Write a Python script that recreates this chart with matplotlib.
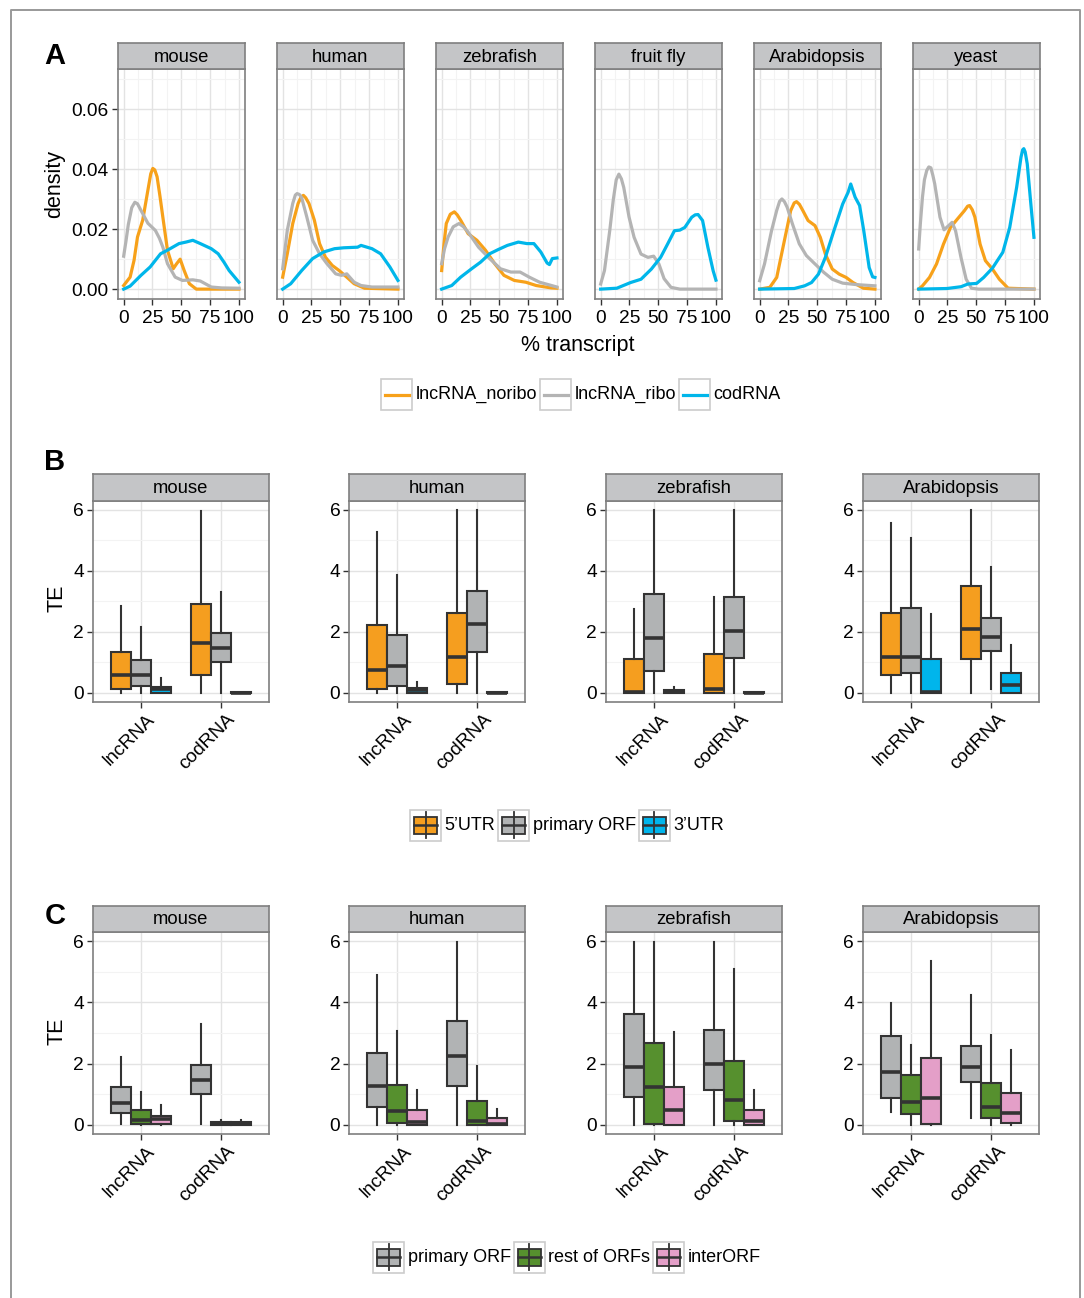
import matplotlib
matplotlib.use("Agg")
import matplotlib.pyplot as plt
from matplotlib.patches import Rectangle
from matplotlib.lines import Line2D
from matplotlib.transforms import ScaledTranslation

plt.rcParams["font.family"] = ["Liberation Sans", "DejaVu Sans"]

W, H = 1084, 1298

ORANGE = "#F7A11A"
GREYLINE = "#B4B4B4"
BLUE = "#00B6EA"
BOX_OR = "#F59E1F"
BOX_GR = "#B1B3B4"
BOX_BL = "#00B5EC"
BOX_GN = "#56902E"
BOX_PK = "#E49FC8"
EDGE = "#333333"
STRIP = "#C4C5C7"
BORDER = "#7F7F7F"

# ---- panel A: density of ribosome-profiling reads along transcript ----
species_A = ["mouse", "human", "zebrafish", "fruit fly", "Arabidopsis", "yeast"]
series_A = ["lncRNA_noribo", "lncRNA_ribo", "codRNA"]

mouse_noribo = [(0, 0.0012), (5.6, 0.004), (9, 0.0096), (12, 0.0174), (16.5, 0.023), (21, 0.033),
                (23.5, 0.0385), (25.3, 0.0403), (27, 0.0398), (29, 0.0375), (31.5, 0.031), (34, 0.024),
                (38, 0.013), (43, 0.0068), (46, 0.0085), (49, 0.010), (52.5, 0.0062), (57, 0.0018),
                (63, 0.0), (100, 0.0)]
mouse_ribo = [(0, 0.011), (2, 0.016), (4, 0.0215), (7, 0.0272), (9.7, 0.029), (12, 0.0285), (15, 0.0263),
              (21, 0.022), (27.5, 0.0196), (31, 0.017), (34, 0.014), (38, 0.0085), (44.7, 0.004),
              (51, 0.0029), (60, 0.0031), (66.5, 0.0027), (76, 0.0007), (85, 0.0004), (100, 0.0003)]
mouse_cod = [(0, 0.0), (5.6, 0.001), (15, 0.0046), (23, 0.0074), (32, 0.0118), (38, 0.013),
             (48, 0.0152), (54, 0.0157), (60, 0.0163), (66.5, 0.0152), (76, 0.0135), (82, 0.0118),
             (87, 0.009), (91.5, 0.0062), (100, 0.0023)]

human_noribo = [(0, 0.004), (4, 0.0118), (8.75, 0.0219), (13.4, 0.0286), (16, 0.0308), (18, 0.0313),
                (20, 0.0305), (22.8, 0.0286), (27.5, 0.023), (32, 0.0152), (37, 0.0107), (43, 0.0079),
                (49, 0.0062), (55.6, 0.004), (62, 0.0018), (71, 0.0003), (100, 0.0)]
human_ribo = [(0, 0.0068), (4, 0.0196), (8.75, 0.0286), (11, 0.0314), (12.5, 0.0319), (14.5, 0.0316),
              (16.5, 0.0305), (21, 0.024), (26, 0.0163), (32, 0.0118), (38.4, 0.0085), (46, 0.0051),
              (51, 0.0046), (55.6, 0.0051), (62, 0.0023), (68, 0.0012), (77.5, 0.0007), (100, 0.0007)]
human_cod = [(0, 0.0), (7, 0.0018), (16.5, 0.0062), (26, 0.0102), (35.6, 0.0124), (45, 0.0135),
             (53, 0.0138), (65, 0.014), (68, 0.0146), (77.5, 0.0135), (85, 0.0118), (93, 0.0074),
             (100, 0.0029)]

zebrafish_noribo = [(0, 0.0062), (2, 0.015), (4, 0.0219), (7.5, 0.025), (11, 0.0258), (13.5, 0.0248),
                    (16.5, 0.023), (23, 0.0185), (30.6, 0.0163), (38, 0.013), (46, 0.0085), (54, 0.0046),
                    (63, 0.0029), (73, 0.0023), (82, 0.0012), (95, 0.0004), (100, 0.0003)]
zebrafish_ribo = [(0, 0.0085), (2.5, 0.0135), (5.6, 0.0174), (10, 0.0208), (15, 0.0219), (19, 0.0208),
                  (23, 0.019), (32, 0.014), (41.6, 0.0102), (51, 0.0068), (60, 0.0057), (68, 0.0057),
                  (76, 0.004), (85, 0.0023), (100, 0.0007)]
zebrafish_cod = [(0, 0.0), (8.75, 0.0012), (16.5, 0.004), (26, 0.0068), (33.75, 0.009), (41.6, 0.0118),
                 (49, 0.0132), (57, 0.0146), (66.5, 0.0157), (74, 0.0152), (80, 0.0152), (86, 0.0124),
                 (91.5, 0.0087), (93.5, 0.0082), (96, 0.0102), (100, 0.0104)]

fruitfly_noribo = []
fruitfly_ribo = [(0, 0.0017), (3.3, 0.0062), (7.9, 0.0196), (11, 0.030), (13.5, 0.0365), (15.8, 0.0384),
                 (18, 0.0368), (20, 0.034), (24.6, 0.0241), (29, 0.0173), (35, 0.0117), (41, 0.0106),
                 (46, 0.011), (50.5, 0.0084), (55, 0.0035), (61, 0.0006), (68.7, 0.0), (100, 0.0)]
fruitfly_cod = [(0, 0.0), (14, 0.0003), (26, 0.0022), (35, 0.0033), (44, 0.0067), (52, 0.0106),
                (58, 0.015), (64, 0.0195), (68.7, 0.0197), (73, 0.0206), (79, 0.024), (82, 0.0248),
                (84.5, 0.0249), (88.4, 0.0229), (93, 0.014), (97.6, 0.0061), (100, 0.003)]

arabidopsis_noribo = [(0, 0.0), (8.8, 0.0006), (14.8, 0.0039), (20.8, 0.015), (26.9, 0.0262), (30, 0.0288),
                      (32, 0.0292), (34.5, 0.0283), (37.5, 0.0262), (42, 0.0229), (48, 0.0212),
                      (52.6, 0.0173), (57, 0.0117), (63, 0.0067), (69, 0.005), (75, 0.0039), (81, 0.0022),
                      (90, 0.0003), (100, 0.0)]
arabidopsis_ribo = [(0, 0.0028), (4.2, 0.0084), (10.3, 0.0195), (14.8, 0.0263), (17.3, 0.0293),
                    (19.3, 0.0301), (21.5, 0.0292), (23.9, 0.0273), (28.4, 0.0218), (34.4, 0.0151),
                    (40.5, 0.0112), (48, 0.0084), (55.6, 0.0056), (63, 0.0033), (72, 0.002), (84, 0.0015),
                    (100, 0.0011)]
arabidopsis_cod = [(0, 0.0), (30, 0.0002), (39, 0.0011), (45, 0.0022), (51, 0.005), (57, 0.0106),
                   (64.4, 0.0195), (72, 0.0284), (76.7, 0.0323), (79, 0.0351), (82.8, 0.0307),
                   (86.7, 0.0279), (90.3, 0.0195), (95, 0.0072), (98, 0.0041), (100, 0.0039)]

yeast_noribo = [(0, 0.0), (3.3, 0.0011), (9.4, 0.0039), (15.5, 0.0084), (21.5, 0.015), (27.6, 0.0206),
                (33.6, 0.0234), (39.7, 0.0262), (42.5, 0.0277), (44.2, 0.0279), (46.5, 0.0265),
                (48.8, 0.024), (53.3, 0.015), (57.9, 0.0095), (64, 0.0067), (70, 0.0033), (77.6, 0.0003),
                (100, 0.0)]
yeast_ribo = [(0, 0.0134), (1.5, 0.022), (3.3, 0.0307), (5, 0.0365), (7, 0.0396), (8.8, 0.0408),
              (10.6, 0.0405), (12.3, 0.038), (13.9, 0.0352), (18.5, 0.024), (22, 0.0198), (26, 0.0212),
              (29, 0.0223), (32, 0.0195), (36.7, 0.0106), (41.2, 0.0033), (45.8, 0.0003), (52, 0.0),
              (100, 0.0)]
yeast_cod = [(0, 0.0), (24.5, 0.0002), (36.7, 0.0008), (42.7, 0.0017), (50.3, 0.0019), (56.4, 0.0039),
             (64, 0.007), (73, 0.0123), (79, 0.0206), (85, 0.034), (88.8, 0.0441), (90.2, 0.0465),
             (91.2, 0.0469), (92.4, 0.0458), (94.2, 0.0418), (97.3, 0.0285), (100, 0.0173)]

# ---- panels B / C: TE boxplots, stats = (whislo, q1, median, q3, whishi) for [lncRNA, codRNA] ----
categories = ["lncRNA", "codRNA"]
species_BC = ["mouse", "human", "zebrafish", "Arabidopsis"]
groups_B = ["5\u2019UTR", "primary ORF", "3\u2019UTR"]
groups_C = ["primary ORF", "rest of ORFs", "interORF"]

B_mouse_utr5 = [(0, 0.13, 0.60, 1.33, 2.85), (0, 0.57, 1.65, 2.91, 5.95)]
B_mouse_orf = [(0, 0.24, 0.57, 1.09, 2.17), (0, 1.02, 1.47, 1.96, 3.32)]
B_mouse_utr3 = [(0, 0, 0.13, 0.20, 0.48), (0, 0, 0.01, 0.02, 0.03)]
B_human_utr5 = [(0, 0.14, 0.74, 2.23, 5.27), (0, 0.29, 1.17, 2.63, 6.0)]
B_human_orf = [(0, 0.22, 0.89, 1.89, 3.86), (0, 1.34, 2.26, 3.33, 6.0)]
B_human_utr3 = [(0, 0, 0.08, 0.15, 0.35), (0, 0, 0.01, 0.02, 0.03)]
B_zebrafish_utr5 = [(0, 0, 0.02, 1.11, 2.74), (0, 0, 0.13, 1.26, 3.15)]
B_zebrafish_orf = [(0, 0.71, 1.79, 3.23, 6.0), (0, 1.14, 2.03, 3.13, 6.0)]
B_zebrafish_utr3 = [(0, 0, 0.02, 0.09, 0.20), (0, 0, 0.01, 0.02, 0.03)]
B_arabidopsis_utr5 = [(0, 0.58, 1.17, 2.61, 5.57), (0, 1.10, 2.10, 3.50, 6.0)]
B_arabidopsis_orf = [(0, 0.65, 1.17, 2.78, 5.09), (0.11, 1.37, 1.83, 2.47, 4.13)]
B_arabidopsis_utr3 = [(0, 0, 0.02, 1.12, 2.58), (0, 0, 0.26, 0.64, 1.58)]

C_mouse_orf = [(0.02, 0.37, 0.70, 1.23, 2.20), (0.02, 1.00, 1.46, 1.95, 3.31)]
C_mouse_rest = [(0, 0.04, 0.15, 0.48, 1.08), (0, 0, 0.04, 0.08, 0.15)]
C_mouse_inter = [(0, 0.04, 0.20, 0.30, 0.66), (0, 0, 0.04, 0.08, 0.15)]
C_human_orf = [(0, 0.59, 1.27, 2.34, 4.91), (0, 1.26, 2.24, 3.39, 5.98)]
C_human_rest = [(0, 0.07, 0.45, 1.29, 3.05), (0, 0, 0.12, 0.78, 1.93)]
C_human_inter = [(0, 0, 0.10, 0.47, 1.15), (0, 0, 0.04, 0.22, 0.53)]
C_zebrafish_orf = [(0, 0.92, 1.88, 3.61, 5.98), (0, 1.15, 1.98, 3.09, 5.96)]
C_zebrafish_rest = [(0, 0.04, 1.24, 2.67, 5.98), (0, 0.11, 0.81, 2.09, 5.09)]
C_zebrafish_inter = [(0, 0, 0.48, 1.22, 3.02), (0, 0, 0.11, 0.47, 1.15)]
C_arabidopsis_orf = [(0.42, 0.88, 1.72, 2.91, 3.97), (0.21, 1.39, 1.88, 2.58, 4.23)]
C_arabidopsis_rest = [(0, 0.35, 0.75, 1.64, 2.62), (0, 0.23, 0.59, 1.37, 2.94)]
C_arabidopsis_inter = [(0, 0.04, 0.87, 2.18, 5.35), (0, 0.07, 0.40, 1.03, 2.46)]

curves_A = {
    "mouse": [mouse_noribo, mouse_ribo, mouse_cod],
    "human": [human_noribo, human_ribo, human_cod],
    "zebrafish": [zebrafish_noribo, zebrafish_ribo, zebrafish_cod],
    "fruit fly": [fruitfly_noribo, fruitfly_ribo, fruitfly_cod],
    "Arabidopsis": [arabidopsis_noribo, arabidopsis_ribo, arabidopsis_cod],
    "yeast": [yeast_noribo, yeast_ribo, yeast_cod],
}
boxes_B = {
    "mouse": [B_mouse_utr5, B_mouse_orf, B_mouse_utr3],
    "human": [B_human_utr5, B_human_orf, B_human_utr3],
    "zebrafish": [B_zebrafish_utr5, B_zebrafish_orf, B_zebrafish_utr3],
    "Arabidopsis": [B_arabidopsis_utr5, B_arabidopsis_orf, B_arabidopsis_utr3],
}
boxes_C = {
    "mouse": [C_mouse_orf, C_mouse_rest, C_mouse_inter],
    "human": [C_human_orf, C_human_rest, C_human_inter],
    "zebrafish": [C_zebrafish_orf, C_zebrafish_rest, C_zebrafish_inter],
    "Arabidopsis": [C_arabidopsis_orf, C_arabidopsis_rest, C_arabidopsis_inter],
}
colors_A = [ORANGE, GREYLINE, BLUE]
colors_B = [BOX_OR, BOX_GR, BOX_BL]
colors_C = [BOX_GR, BOX_GN, BOX_PK]

fig = plt.figure(figsize=(W / 100, H / 100), dpi=100)


def rect(x0, y0, x1, y1):
    return [x0 / W, 1 - y1 / H, (x1 - x0) / W, (y1 - y0) / H]


def style_panel(ax):
    for s in ax.spines.values():
        s.set_color(BORDER)
        s.set_linewidth(1.2)
    ax.set_axisbelow(True)
    ax.grid(which="major", color="#E3E3E3", linewidth=1.0)
    ax.grid(which="minor", color="#F3F3F3", linewidth=0.8)
    ax.tick_params(which="major", length=4.5, width=1.0, color=EDGE,
                   labelsize=13.8, labelcolor="black", pad=2)
    ax.tick_params(which="minor", length=0)


def strip(x0, y0, x1, y1, label):
    s = fig.add_axes(rect(x0, y0, x1, y1))
    s.set_facecolor(STRIP)
    s.set_xticks([]); s.set_yticks([])
    for sp in s.spines.values():
        sp.set_color(BORDER)
        sp.set_linewidth(1.2)
    s.text(0.5, 0.46, label, ha="center", va="center", fontsize=13.3, transform=s.transAxes)


# ---- panel A ----
for i, sp in enumerate(species_A):
    x0 = 117.9 + 159 * i
    ax = fig.add_axes(rect(x0, 69, x0 + 126.8, 298.7))
    for pts, c in zip(curves_A[sp], colors_A):
        if pts:
            xs = [p[0] for p in pts]
            ys = [p[1] for p in pts]
            ax.plot(xs, ys, color=c, linewidth=2.3, solid_joinstyle="round")
    ax.set_xlim(-5, 105)
    ax.set_ylim(-0.0032, 0.0735)
    ax.set_xticks([0, 25, 50, 75, 100])
    ax.set_xticks([12.5, 37.5, 62.5, 87.5], minor=True)
    ax.set_yticks([0, 0.02, 0.04, 0.06])
    ax.set_yticks([0.01, 0.03, 0.05, 0.07], minor=True)
    style_panel(ax)
    ax.tick_params(axis="x", pad=3.5)
    if i == 0:
        ax.set_yticklabels(["0.00", "0.02", "0.04", "0.06"])
    else:
        ax.tick_params(axis="y", which="both", length=0, labelleft=False)
    strip(x0, 43.3, x0 + 126.8, 69, sp)


# ---- panels B and C ----
shift = ScaledTranslation(6 / 100, 0, fig.dpi_scale_trans)


def box_panels(data, colors, y_strip, y_top, y_bot):
    for i, sp in enumerate(species_BC):
        x0 = 92.7 + 256.7 * i
        ax = fig.add_axes(rect(x0, y_top, x0 + 176, y_bot))
        for k, (stats, c) in enumerate(zip(data[sp], colors)):
            off = (k - 1) * 0.25
            bs = [dict(whislo=s[0], q1=s[1], med=s[2], q3=s[3], whishi=s[4], fliers=[])
                  for s in stats]
            ax.bxp(bs, positions=[1 + off, 2 + off], widths=0.25, patch_artist=True,
                   showcaps=False, showfliers=False, manage_ticks=False,
                   boxprops=dict(facecolor=c, edgecolor=EDGE, linewidth=1.5),
                   medianprops=dict(color=EDGE, linewidth=2.6, solid_capstyle="butt"),
                   whiskerprops=dict(color=EDGE, linewidth=1.5))
        ax.set_xlim(0.4, 2.6)
        ax.set_ylim(-0.3, 6.3)
        ax.set_xticks([1, 2])
        ax.set_xticklabels(categories, rotation=45, ha="right", va="top",
                           rotation_mode="anchor")
        ax.set_yticks([0, 2, 4, 6])
        ax.set_yticks([1, 3, 5], minor=True)
        style_panel(ax)
        for lab in ax.get_xticklabels():
            lab.set_transform(lab.get_transform() + shift)
        strip(x0, y_strip, x0 + 176, y_top, sp)


box_panels(boxes_B, colors_B, 474, 500.7, 702)
box_panels(boxes_C, colors_C, 905.7, 932, 1134)

# ---- overlay in pixel coordinates: frame, labels, legends ----
ov = fig.add_axes([0, 0, 1, 1], zorder=-1)
ov.set_xlim(0, W)
ov.set_ylim(H, 0)
ov.axis("off")
ov.add_line(Line2D([11, 11, 1080, 1080], [H + 5, 10, 10, H + 5], color="#999999", linewidth=1.4))

for lab, y in [("A", 56), ("B", 462), ("C", 916)]:
    ov.text(55, y, lab, ha="center", va="center", fontsize=21, fontweight="bold")
ov.text(55, 184, "density", rotation=90, ha="center", va="center", fontsize=15.5)
ov.text(578, 345, "% transcript", ha="center", va="center", fontsize=15.5)
ov.text(57, 598, "TE", rotation=90, ha="center", va="center", fontsize=15.5)
ov.text(57, 1031, "TE", rotation=90, ha="center", va="center", fontsize=15.5)

renderer = fig.canvas.get_renderer()


def legend(x, yc, labels, colors, kind):
    for lab, c in zip(labels, colors):
        ov.add_patch(Rectangle((x, yc - 15.5), 31, 31, facecolor="white",
                               edgecolor="#CCCCCC", linewidth=1.2))
        if kind == "line":
            ov.add_line(Line2D([x + 4, x + 28], [yc, yc], color=c, linewidth=2.3))
        else:
            cx = x + 15.5
            ov.add_line(Line2D([cx, cx], [yc - 13, yc + 13], color=EDGE, linewidth=1.3))
            ov.add_patch(Rectangle((x + 4, yc - 8.5), 23, 17, facecolor=c,
                                   edgecolor=EDGE, linewidth=1.3))
            ov.add_line(Line2D([x + 4, x + 27], [yc, yc], color=EDGE, linewidth=1.8))
        t = ov.text(x + 34.5, yc, lab, ha="left", va="center", fontsize=13)
        w = t.get_window_extent(renderer=renderer).width
        x = x + 34.5 + w + 3


legend(381, 394.5, series_A, colors_A, "line")
legend(410, 825, groups_B, colors_B, "box")
legend(373, 1257, groups_C, colors_C, "box")

fig.savefig("out.png", dpi=100)
